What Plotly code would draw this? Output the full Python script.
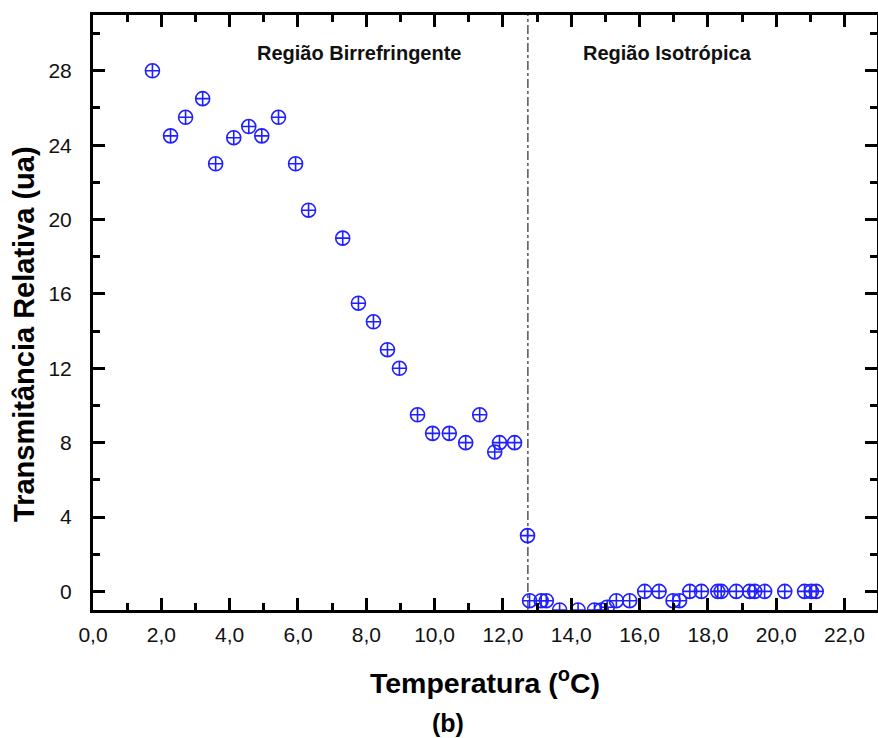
import plotly.graph_objects as go

# Relative transmittance vs temperature
temperatura = [
    1.74, 2.27, 2.71, 3.21, 3.59, 4.12, 4.56, 4.94, 5.43, 5.93,
    6.31, 7.31, 7.77, 8.21, 8.62, 8.97, 9.50, 9.94, 10.43, 10.91,
    11.32, 11.76, 11.90, 12.34, 12.72,
    12.78, 13.12, 13.27, 13.66, 14.20, 14.68, 14.88, 15.05, 15.32, 15.71,
    16.15, 16.57, 16.98, 17.17, 17.47, 17.81, 18.29, 18.39, 18.83, 19.22,
    19.37, 19.66, 20.25, 20.83, 21.03, 21.17,
]
transmitancia = [
    28.0, 24.5, 25.5, 26.5, 23.0, 24.4, 25.0, 24.5, 25.5, 23.0,
    20.5, 19.0, 15.5, 14.5, 13.0, 12.0, 9.5, 8.5, 8.5, 8.0,
    9.5, 7.5, 8.0, 8.0, 3.0,
    -0.5, -0.5, -0.5, -1.0, -1.0, -1.0, -1.0, -0.85, -0.5, -0.5,
    0.0, 0.0, -0.5, -0.5, 0.0, 0.0, 0.0, 0.0, 0.0, 0.0,
    0.0, 0.0, 0.0, 0.0, 0.0, 0.0,
]

# Transition temperature separating the two regions
t_transicao = 12.73

x_ticks = [0, 2, 4, 6, 8, 10, 12, 14, 16, 18, 20, 22]
x_ticktext = ["0,0", "2,0", "4,0", "6,0", "8,0", "10,0", "12,0",
              "14,0", "16,0", "18,0", "20,0", "22,0"]
y_ticks = [0, 4, 8, 12, 16, 20, 24, 28]
y_ticktext = ["0", "4", "8", "12", "16", "20", "24", "28"]

regioes = ["Região Birrefringente", "Região Isotrópica"]
regioes_x = [7.78, 16.81]

fig = go.Figure()

fig.add_trace(go.Scatter(
    x=temperatura,
    y=transmitancia,
    mode="markers",
    marker=dict(
        symbol="circle-cross-open",
        size=14,
        color="#2020ff",
        line=dict(width=1.6, color="#2020ff"),
    ),
    showlegend=False,
))

fig.add_shape(
    type="line",
    x0=t_transicao, x1=t_transicao,
    y0=0, y1=1,
    xref="x", yref="paper",
    line=dict(color="#555555", width=1.5, dash="dashdot"),
    layer="below",
)

for texto, xpos in zip(regioes, regioes_x):
    fig.add_annotation(
        x=xpos, y=28.95, xref="x", yref="y",
        text=texto, showarrow=False,
        font=dict(family="Liberation Sans, Arial, sans-serif", size=20,
                  color="#111111", weight="bold"),
    )

# Y-axis title, placed as a rotated annotation
fig.add_annotation(
    x=-0.088, y=0.464, xref="paper", yref="paper",
    xanchor="center", yanchor="middle",
    text="Transmitância Relativa (ua)", textangle=-90, showarrow=False,
    font=dict(family="Liberation Sans, Arial, sans-serif", size=29,
              color="#000000", weight="bold"),
)

fig.add_annotation(
    x=0.453, y=-0.19, xref="paper", yref="paper",
    xanchor="center", yanchor="middle",
    text="(b)", showarrow=False,
    font=dict(family="Liberation Sans, Arial, sans-serif", size=25,
              color="#000000", weight="bold"),
)

axis_common = dict(
    showline=True,
    linewidth=3,
    linecolor="#000000",
    mirror="ticks",
    ticks="inside",
    ticklen=12,
    tickwidth=2.5,
    tickcolor="#000000",
    showgrid=False,
    zeroline=False,
)

fig.update_xaxes(
    **axis_common,
    range=[0, 22.95],
    tickvals=x_ticks,
    ticktext=x_ticktext,
    minor=dict(ticks="inside", ticklen=7, tickwidth=2.5, dtick=1,
               tick0=0, tickcolor="#000000", showgrid=False),
    tickfont=dict(family="Liberation Sans, Arial, sans-serif",
                  size=21, color="#111111"),
    ticklabelstandoff=4,
    title=dict(
        text="Temperatura (<sup>o</sup>C)",
        font=dict(family="Liberation Sans, Arial, sans-serif",
                  size=28.5, color="#000000", weight="bold"),
        standoff=28,
    ),
)

fig.update_yaxes(
    **axis_common,
    range=[-1.0, 31.0],
    tickvals=y_ticks,
    ticktext=y_ticktext,
    minor=dict(ticks="inside", ticklen=7, tickwidth=2.5, dtick=2,
               tick0=0, tickcolor="#000000", showgrid=False),
    tickfont=dict(family="Liberation Sans, Arial, sans-serif",
                  size=21, color="#111111"),
    ticklabelstandoff=14,
)

fig.update_layout(
    width=878,
    height=738,
    margin=dict(l=93, r=1, t=15, b=128, autoexpand=False),
    plot_bgcolor="#ffffff",
    paper_bgcolor="#ffffff",
)

fig.write_html("out.html")
